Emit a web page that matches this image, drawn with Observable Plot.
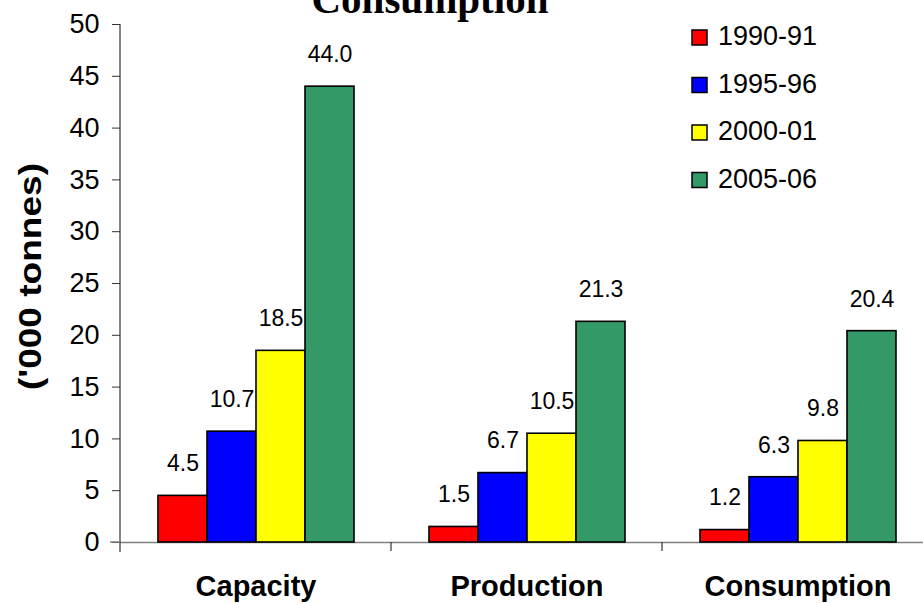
<!DOCTYPE html>
<html>
<head>
<meta charset="utf-8">
<script src="https://cdn.jsdelivr.net/npm/d3@7"></script>
<script src="https://cdn.jsdelivr.net/npm/@observablehq/plot@0.6"></script>
<style>
  html, body { margin: 0; padding: 0; background: white; overflow: hidden; width: 923px; height: 603px; }
  #chart { width: 923px; height: 603px; overflow: hidden; position: relative; }
</style>
</head>
<body>
<div id="chart"></div>
<script>
const categories = ["Capacity", "Production", "Consumption"];
const seriesNames = ["1990-91", "1995-96", "2000-01", "2005-06"];
const values1990 = [4.5, 1.5, 1.2];
const values1995 = [10.7, 6.7, 6.3];
const values2000 = [18.5, 10.5, 9.8];
const values2005 = [44.0, 21.3, 20.4];
const seriesColors = ["#FF0000", "#0000FF", "#FFFF00", "#339966"];
const yTicks = [0, 5, 10, 15, 20, 25, 30, 35, 40, 45, 50];
const titleText = "Consumption";
const yLabel = "('000 tonnes)";

const seriesValues = [values1990, values1995, values2000, values2005];
const data = [];
categories.forEach((c, ci) => {
  seriesNames.forEach((s, si) => {
    data.push({cat: c, series: s, value: seriesValues[si][ci]});
  });
});

const font = "'Liberation Sans', Arial, sans-serif";

const svg = Plot.plot({
  width: 933,
  height: 603,
  marginLeft: 120,
  marginRight: 0,
  marginTop: 24,
  marginBottom: 61,
  style: {fontFamily: font, background: "white", overflow: "visible"},
  fx: {domain: categories, padding: 0, label: null},
  x: {domain: seriesNames, paddingInner: 0, paddingOuter: 0.75, axis: null},
  y: {domain: [0, 50], label: null},
  color: {domain: seriesNames, range: seriesColors},
  marks: [
    Plot.ruleY([0], {stroke: "#808080", strokeWidth: 1.5}),
    Plot.barY(data, {fx: "cat", x: "series", y: "value", fill: "series", stroke: "black", strokeWidth: 1.6, inset: 0}),
    Plot.text(data, {fx: "cat", x: "series", y: "value", text: d => d.value.toFixed(1), dy: -32, fontSize: 23, fill: "black"}),
    Plot.axisY(yTicks, {anchor: "left", tickSize: 8, tickPadding: 13, fontSize: 27, label: null, stroke: "#333", fill: "black"}),
    Plot.axisFx({anchor: "bottom", tickSize: 0, tickPadding: 33, fontSize: 29, fontWeight: "bold", label: null, fill: "black"})
  ]
});
svg.style.maxWidth = "none";
document.getElementById("chart").appendChild(svg);

const fx = svg.scale("fx");
const y = svg.scale("y");
const sel = d3.select(svg);
const y0 = y.apply(0);
const yTop = y.apply(50);
const left = fx.apply(categories[0]);

// y axis line
sel.append("line")
  .attr("x1", left).attr("x2", left)
  .attr("y1", yTop).attr("y2", y0 + 10)
  .attr("stroke", "#333").attr("stroke-width", 1.2);
// x axis stub left
sel.append("line")
  .attr("x1", left - 10).attr("x2", left)
  .attr("y1", y0).attr("y2", y0)
  .attr("stroke", "#808080").attr("stroke-width", 1.5);
// category boundary ticks
const bounds = categories.map(c => fx.apply(c));
bounds.push(fx.apply(categories[categories.length - 1]) + fx.bandwidth);
sel.append("g").selectAll("line").data(bounds.slice(1)).join("line")
  .attr("x1", d => d).attr("x2", d => d)
  .attr("y1", y0).attr("y2", y0 + 9)
  .attr("stroke", "#333").attr("stroke-width", 1.2);

// title (partly cut off at top, as in the reference)
sel.append("text")
  .attr("x", 430).attr("y", 13)
  .attr("text-anchor", "middle")
  .style("font-family", "'Liberation Serif', 'Times New Roman', serif")
  .style("font-weight", "bold")
  .style("font-size", "41px")
  .attr("fill", "black")
  .text(titleText);

// y axis label
sel.append("text")
  .attr("transform", `translate(30, ${(163 + 390) / 2}) rotate(-90)`)
  .attr("text-anchor", "middle")
  .attr("dominant-baseline", "central")
  .attr("textLength", 227)
  .attr("lengthAdjust", "spacingAndGlyphs")
  .style("font-family", font)
  .style("font-weight", "bold")
  .style("font-size", "32px")
  .attr("fill", "black")
  .text(yLabel);

// legend
const lg = sel.append("g").attr("transform", "translate(692, 30)");
seriesNames.forEach((s, i) => {
  const g = lg.append("g").attr("transform", `translate(0, ${i * 47.5})`);
  g.append("rect").attr("x", 0).attr("y", 0).attr("width", 15).attr("height", 15)
    .attr("fill", seriesColors[i]).attr("stroke", "black").attr("stroke-width", 1.5);
  g.append("text").attr("x", 26).attr("y", 6)
    .attr("text-anchor", "start")
    .attr("dominant-baseline", "central")
    .style("font-family", font).style("font-size", "27px")
    .attr("fill", "black")
    .text(s);
});
</script>
</body>
</html>
